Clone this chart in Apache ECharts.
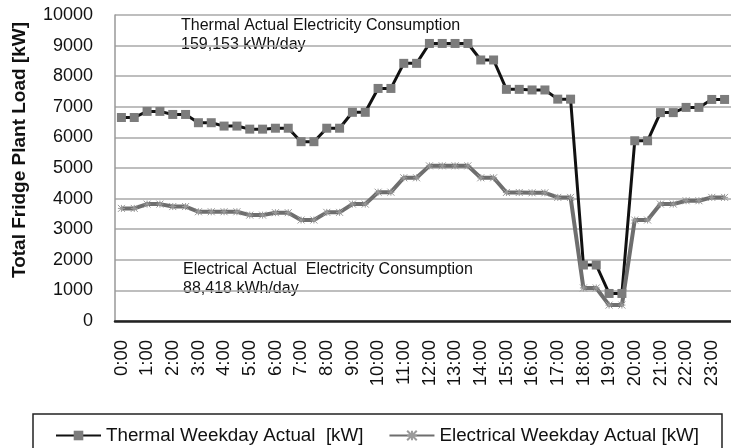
<!DOCTYPE html>
<html>
<head>
<meta charset="utf-8">
<script src="https://cdn.jsdelivr.net/npm/echarts@6/dist/echarts.min.js"></script>
<style>
html, body { margin: 0; padding: 0; background: #fff; }
#chart { width: 731px; height: 448px; }
</style>
</head>
<body>
<div id="chart"></div>
<script>
// half-hourly categories, labels shown on the hour
var hours = ['0:00','0:30','1:00','1:30','2:00','2:30','3:00','3:30','4:00','4:30','5:00','5:30',
  '6:00','6:30','7:00','7:30','8:00','8:30','9:00','9:30','10:00','10:30','11:00','11:30',
  '12:00','12:30','13:00','13:30','14:00','14:30','15:00','15:30','16:00','16:30','17:00','17:30',
  '18:00','18:30','19:00','19:30','20:00','20:30','21:00','21:30','22:00','22:30','23:00','23:30'];

var thermal = [6650, 6650, 6850, 6850, 6750, 6750, 6480, 6480, 6370, 6370, 6270, 6270,
  6300, 6300, 5860, 5860, 6300, 6300, 6820, 6820, 7600, 7600, 8420, 8420,
  9070, 9070, 9070, 9070, 8530, 8530, 7570, 7570, 7550, 7550, 7250, 7250,
  1830, 1830, 900, 900, 5890, 5890, 6810, 6810, 6980, 6980, 7240, 7240];

var electrical = [3680, 3680, 3820, 3820, 3740, 3740, 3570, 3570, 3570, 3570, 3460, 3460,
  3540, 3540, 3300, 3300, 3550, 3550, 3820, 3820, 4210, 4210, 4680, 4680,
  5070, 5070, 5070, 5070, 4680, 4680, 4200, 4200, 4190, 4190, 4040, 4040,
  1080, 1080, 520, 520, 3300, 3300, 3820, 3820, 3930, 3930, 4040, 4040];

var seriesNames = ['Thermal Weekday Actual  [kW]', 'Electrical Weekday Actual [kW]'];
var yMin = 0, yMax = 10000, yStep = 1000;

var font = "'Liberation Sans', Arial, sans-serif";
var chart = echarts.init(document.getElementById('chart'));

var option = {
  animation: false,
  backgroundColor: '#fff',
  grid: { left: 115, top: 15, bottom: 127, width: 624 },
  legend: {
    left: 33, top: 414,
    padding: [12, 23, 14, 22],
    itemWidth: 45, itemHeight: 12, itemGap: 25,
    borderColor: '#222', borderWidth: 1.5,
    textStyle: { fontFamily: font, fontSize: 18.8, color: '#111' },
    data: seriesNames
  },
  xAxis: {
    type: 'category',
    data: hours,
    boundaryGap: true,
    axisTick: { show: false },
    axisLine: { lineStyle: { color: '#222', width: 2.5 } },
    axisLabel: { interval: 1, rotate: 90, margin: 19, fontFamily: font, fontSize: 18.5, color: '#111' }
  },
  yAxis: {
    type: 'value',
    min: yMin, max: yMax, interval: yStep,
    axisLine: { show: true, lineStyle: { color: '#999', width: 1.5 } },
    axisTick: { show: false },
    splitLine: { lineStyle: { color: '#a8a8a8', width: 1.5 } },
    axisLabel: { margin: 22, fontFamily: font, fontSize: 18, color: '#111',
      formatter: function (v) { return String(v); } }
  },
  graphic: [
    { type: 'text', x: 20, y: 150, rotation: Math.PI / 2,
      style: { text: 'Total Fridge Plant Load [kW]', font: 'bold 19px ' + font, fill: '#111',
        textAlign: 'center', textVerticalAlign: 'middle' } },
    { type: 'text', x: 181, y: 16,
      style: { text: 'Thermal Actual Electricity Consumption\n159,153 kWh/day', font: '16px ' + font,
        fill: '#111', lineHeight: 19 } },
    { type: 'text', x: 183, y: 260,
      style: { text: 'Electrical Actual  Electricity Consumption\n88,418 kWh/day', font: '16px ' + font,
        fill: '#111', lineHeight: 19 } }
  ],
  series: [
    {
      name: seriesNames[0],
      type: 'line',
      data: thermal,
      showAllSymbol: true,
      symbol: 'rect',
      symbolSize: 9,
      lineStyle: { color: '#111', width: 3 },
      itemStyle: { color: '#7c7c7c' }
    },
    {
      name: seriesNames[1],
      type: 'line',
      data: electrical,
      showAllSymbol: true,
      symbol: 'path://M0,0L10,10M10,0L0,10M5,0L5,10M0,5L10,5',
      symbolSize: 7,
      lineStyle: { color: '#6e6e6e', width: 4 },
      itemStyle: { color: '#9a9a9a', borderColor: '#9a9a9a', borderWidth: 1 }
    }
  ]
};
chart.setOption(option);
</script>
</body>
</html>
